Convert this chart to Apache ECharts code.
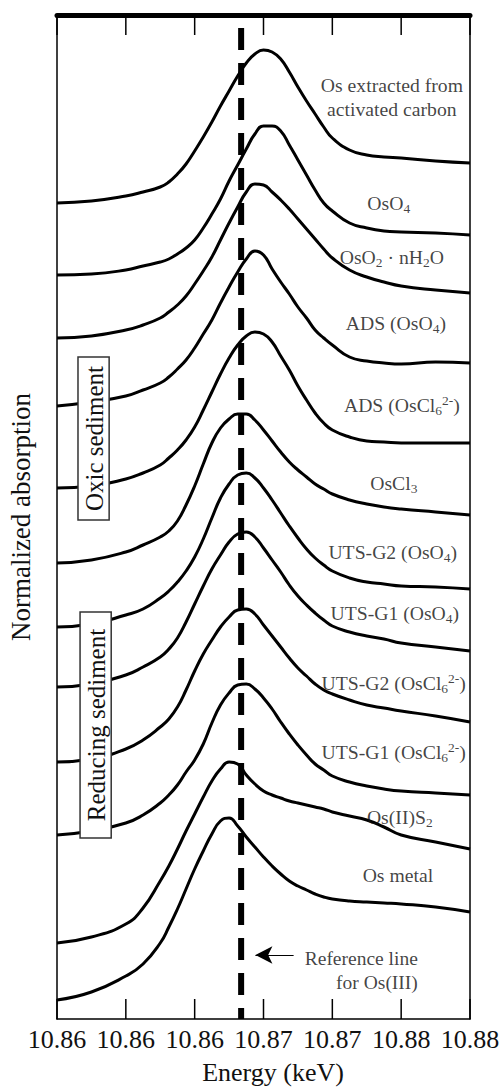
<!DOCTYPE html>
<html><head><meta charset="utf-8">
<script src="https://cdn.jsdelivr.net/npm/echarts@6/dist/echarts.min.js"></script>
<style>html,body{margin:0;padding:0;background:#fff}#c{width:500px;height:1088px}</style>
</head><body><div id="c"></div>
<script>
// Energy grid (keV)
const energy = [10.856, 10.858, 10.860, 10.861, 10.862, 10.8625, 10.863, 10.8635, 10.864, 10.8645,
  10.865, 10.8655, 10.866, 10.8665, 10.867, 10.8675, 10.868, 10.8685, 10.869, 10.8695,
  10.870, 10.8705, 10.871, 10.8715, 10.872, 10.873, 10.874, 10.875, 10.876, 10.878, 10.880];

// Normalized absorption (stacked with offsets)
const osExtractedAC = [8.16,8.18,8.23,8.27,8.32,8.37,8.45,8.55,8.68,8.82,8.97,9.13,9.28,9.43,9.56,9.65,9.69,9.67,9.60,9.47,9.32,9.18,9.05,8.92,8.81,8.69,8.64,8.62,8.61,8.58,8.56];
const osO4 = [7.44,7.45,7.49,7.53,7.57,7.60,7.65,7.71,7.79,7.91,8.05,8.20,8.38,8.54,8.70,8.85,8.93,8.93,8.88,8.74,8.59,8.44,8.29,8.16,8.08,7.96,7.91,7.88,7.87,7.86,7.84];
const osO2nH2O = [6.81,6.83,6.89,6.94,7.01,7.07,7.14,7.23,7.35,7.48,7.62,7.79,7.96,8.12,8.27,8.35,8.34,8.27,8.19,8.10,8.00,7.90,7.80,7.70,7.61,7.49,7.42,7.37,7.33,7.29,7.26];
const adsOsO4 = [6.13,6.17,6.23,6.29,6.36,6.42,6.50,6.59,6.71,6.85,6.99,7.16,7.32,7.47,7.60,7.68,7.64,7.50,7.37,7.25,7.12,7.01,6.89,6.81,6.74,6.62,6.58,6.56,6.55,6.57,6.56];
const adsOsCl6 = [5.31,5.33,5.40,5.46,5.54,5.61,5.69,5.79,5.92,6.09,6.27,6.45,6.61,6.74,6.83,6.87,6.85,6.77,6.63,6.49,6.33,6.19,6.06,5.96,5.89,5.82,5.78,5.77,5.76,5.76,5.76];
const osCl3 = [4.56,4.59,4.67,4.74,4.82,4.88,4.98,5.14,5.33,5.55,5.76,5.91,6.00,6.05,6.05,5.99,5.89,5.78,5.67,5.57,5.49,5.42,5.35,5.30,5.25,5.19,5.15,5.12,5.10,5.07,5.04];
const utsG2OsO4 = [3.92,3.95,4.04,4.10,4.21,4.28,4.37,4.48,4.62,4.80,5.01,5.21,5.35,5.44,5.46,5.41,5.31,5.19,5.06,4.93,4.81,4.70,4.61,4.54,4.48,4.41,4.37,4.35,4.33,4.32,4.30];
const utsG1OsO4 = [3.32,3.35,3.44,3.52,3.62,3.70,3.81,3.97,4.15,4.33,4.50,4.64,4.77,4.85,4.87,4.82,4.71,4.59,4.47,4.34,4.23,4.14,4.06,3.99,3.93,3.87,3.83,3.80,3.76,3.72,3.68];
const utsG2OsCl6 = [2.57,2.60,2.70,2.79,2.92,3.00,3.12,3.29,3.48,3.65,3.79,3.92,4.02,4.09,4.10,4.05,3.94,3.83,3.72,3.61,3.51,3.43,3.35,3.29,3.25,3.19,3.14,3.11,3.08,3.03,2.97];
const utsG1OsCl6 = [1.84,1.88,1.96,2.04,2.16,2.24,2.34,2.47,2.59,2.75,2.96,3.14,3.26,3.34,3.35,3.30,3.21,3.10,2.97,2.85,2.74,2.64,2.55,2.49,2.43,2.37,2.33,2.30,2.28,2.26,2.24];
const osIIS2 = [0.76,0.82,0.95,1.11,1.38,1.53,1.70,1.88,2.05,2.22,2.38,2.50,2.57,2.55,2.44,2.35,2.28,2.24,2.21,2.18,2.16,2.14,2.12,2.10,2.07,2.03,1.99,1.92,1.84,1.77,1.70];
const osMetal = [0.19,0.27,0.43,0.55,0.76,0.92,1.10,1.30,1.50,1.68,1.85,1.98,2.01,1.93,1.82,1.72,1.62,1.53,1.45,1.38,1.33,1.29,1.25,1.22,1.20,1.18,1.17,1.16,1.15,1.12,1.07];

const curves = [osExtractedAC, osO4, osO2nH2O, adsOsO4, adsOsCl6, osCl3, utsG2OsO4, utsG1OsO4, utsG2OsCl6, utsG1OsCl6, osIIS2, osMetal];

// Curve labels (rich text) and their anchor positions [energy, absorption]
const curveLabels = [
  '{n|Os extracted from}\n{n|activated carbon}',
  '{n|OsO}{s|4}',
  '{n|OsO}{s|2}{n| · nH}{s|2}{n|O}',
  '{n|ADS (OsO}{s|4}{n|)}',
  '{n|ADS (OsCl}{s|6}{p|2-}{n|)}',
  '{n|OsCl}{s|3}',
  '{n|UTS-G2 (OsO}{s|4}{n|)}',
  '{n|UTS-G1 (OsO}{s|4}{n|)}',
  '{n|UTS-G2 (OsCl}{s|6}{p|2-}{n|)}',
  '{n|UTS-G1 (OsCl}{s|6}{p|2-}{n|)}',
  '{n|Os(II)S}{s|2}',
  '{n|Os metal}'
];
const labelEnergy = [10.87546, 10.87528, 10.87546, 10.87569, 10.87604, 10.87557, 10.87551, 10.87563, 10.87557, 10.87557, 10.87592, 10.87581];
const labelAbs = [9.225, 8.16, 7.62, 6.96, 6.14, 5.36, 4.67, 4.06, 3.36, 2.67, 2.02, 1.44];

// Reference line for Os(III)
const refEnergy = 10.8667;
const refSpan = [9.91, 0];
const refArrow = [[10.86975, 0.64], [10.86753, 0.64]];
const refText = {pos: [10.87697, 0.49], text: 'Reference line\nfor Os(III)'};

// Sample group boxes: [energy left, energy right, abs top, abs bottom]
const groupBoxes = [
  {name: 'Oxic sediment', box: [10.85722, 10.85903, 6.62, 4.99]},
  {name: 'Reducing sediment', box: [10.85734, 10.85915, 4.07, 1.81]}
];

const xMin = 10.856, xMax = 10.880, xStep = 0.004;
const yMin = 0, yMax = 10.04;
const tickEnergies = [10.856, 10.860, 10.864, 10.868, 10.872, 10.876, 10.880];
const tickLen = 0.2;

const FONT = '"Liberation Serif", "Times New Roman", serif';
const chart = echarts.init(document.getElementById('c'), null, {renderer: 'svg'});

const richStyle = {
  n: {fontSize: 19.7, lineHeight: 24, fontFamily: FONT, color: '#111'},
  s: {fontSize: 13.5, lineHeight: 13, verticalAlign: 'bottom', fontFamily: FONT, color: '#111'},
  p: {fontSize: 13.5, lineHeight: 13, verticalAlign: 'top', fontFamily: FONT, color: '#111'}
};

const series = curves.map((arr, k) => ({
  type: 'line', name: 'c' + k, silent: true, showSymbol: false, smooth: 0.5,
  lineStyle: {color: '#000', width: 3},
  data: energy.map((e, i) => [e, arr[i]]), z: 2
}));

series.push({
  type: 'line', silent: true, showSymbol: false,
  lineStyle: {color: '#000', width: 6, type: [22, 13]},
  data: refSpan.map(v => [refEnergy, v]), z: 3
});

series.push({
  type: 'line', silent: true, showSymbol: false,
  lineStyle: {opacity: 0}, data: refArrow, z: 3,
  markLine: {
    silent: true, symbol: ['none', 'arrow'], symbolSize: [13, 17],
    label: {show: false},
    lineStyle: {color: '#000', width: 1, type: 'solid'},
    data: [[{coord: refArrow[0]}, {coord: refArrow[1]}]]
  }
});

series.push({
  type: 'scatter', silent: true, symbolSize: 0, z: 5,
  data: curveLabels.map((t, k) => ({
    value: [labelEnergy[k], labelAbs[k]],
    label: {show: true, position: 'inside', formatter: t, rich: richStyle, align: 'center', verticalAlign: 'middle'}
  })).concat([{
    value: refText.pos,
    label: {show: true, position: 'inside', formatter: refText.text, fontFamily: FONT, fontSize: 19.5, lineHeight: 24, color: '#111', align: 'right', verticalAlign: 'middle'}
  }])
});

chart.setOption({
  animation: false,
  backgroundColor: '#fff',
  grid: {left: 57, right: 30, top: 15, bottom: 69, containLabel: false, outerBoundsMode: 'none'},
  xAxis: [{
    type: 'value', position: 'bottom', min: xMin, max: xMax, interval: xStep,
    axisLine: {show: true, onZero: false, lineStyle: {color: '#000', width: 1.5}},
    axisTick: {show: false},
    axisLabel: {show: true, fontFamily: FONT, fontSize: 26, color: '#111', margin: 7,
      formatter: v => v.toFixed(2), showMinLabel: true, showMaxLabel: true},
    splitLine: {show: false},
    name: 'Energy (keV)', nameLocation: 'middle', nameGap: 40,
    nameTextStyle: {fontFamily: FONT, fontSize: 26, color: '#111', padding: [0, 0, 0, 19]}
  }, {
    type: 'value', position: 'top', min: xMin, max: xMax, interval: xStep,
    axisLine: {show: true, onZero: false, lineStyle: {color: '#000', width: 5}},
    axisTick: {show: false},
    axisLabel: {show: false}, splitLine: {show: false}
  }],
  yAxis: [{
    type: 'value', position: 'left', min: yMin, max: yMax,
    axisLine: {show: true, onZero: false, lineStyle: {color: '#000', width: 1.5}},
    axisTick: {show: false}, axisLabel: {show: false}, splitLine: {show: false},
    name: 'Normalized absorption', nameLocation: 'middle', nameGap: 23,
    nameTextStyle: {fontFamily: FONT, fontSize: 27, color: '#111'}
  }, {
    type: 'value', position: 'right', min: yMin, max: yMax,
    axisLine: {show: true, onZero: false, lineStyle: {color: '#000', width: 1.5}},
    axisTick: {show: false}, axisLabel: {show: false}, splitLine: {show: false}
  }],
  series: series
});

const graphics = [];
// inward frame ticks at the tick energies (top and bottom), drawn as thin filled bars
tickEnergies.forEach(e => {
  const t0 = chart.convertToPixel({xAxisIndex: 0, yAxisIndex: 0}, [e, yMax]);
  const t1 = chart.convertToPixel({xAxisIndex: 0, yAxisIndex: 0}, [e, yMax - tickLen]);
  const b0 = chart.convertToPixel({xAxisIndex: 0, yAxisIndex: 0}, [e, yMin]);
  const b1 = chart.convertToPixel({xAxisIndex: 0, yAxisIndex: 0}, [e, yMin + tickLen]);
  graphics.push({type: 'rect', z: 120, silent: true,
    shape: {x: t0[0] - 0.75, y: t0[1], width: 1.5, height: t1[1] - t0[1]},
    style: {fill: '#000', stroke: null}});
  graphics.push({type: 'rect', z: 120, silent: true,
    shape: {x: b1[0] - 0.75, y: b1[1], width: 1.5, height: b0[1] - b1[1]},
    style: {fill: '#000', stroke: null}});
});
groupBoxes.forEach(g => {
  const p1 = chart.convertToPixel({xAxisIndex: 0, yAxisIndex: 0}, [g.box[0], g.box[2]]);
  const p2 = chart.convertToPixel({xAxisIndex: 0, yAxisIndex: 0}, [g.box[1], g.box[3]]);
  graphics.push({type: 'rect', z: 100, shape: {x: p1[0], y: p1[1], width: p2[0] - p1[0], height: p2[1] - p1[1]},
    style: {fill: '#fff', stroke: '#333', lineWidth: 1.5}});
  graphics.push({type: 'text', z: 101, x: (p1[0] + p2[0]) / 2 + 1, y: (p1[1] + p2[1]) / 2, rotation: Math.PI / 2,
    style: {text: g.name, fontFamily: FONT, fontSize: 25, fill: '#111', align: 'center', verticalAlign: 'middle',
      textAlign: 'center', textVerticalAlign: 'middle'}});
});
chart.setOption({graphic: graphics});
</script></body></html>
